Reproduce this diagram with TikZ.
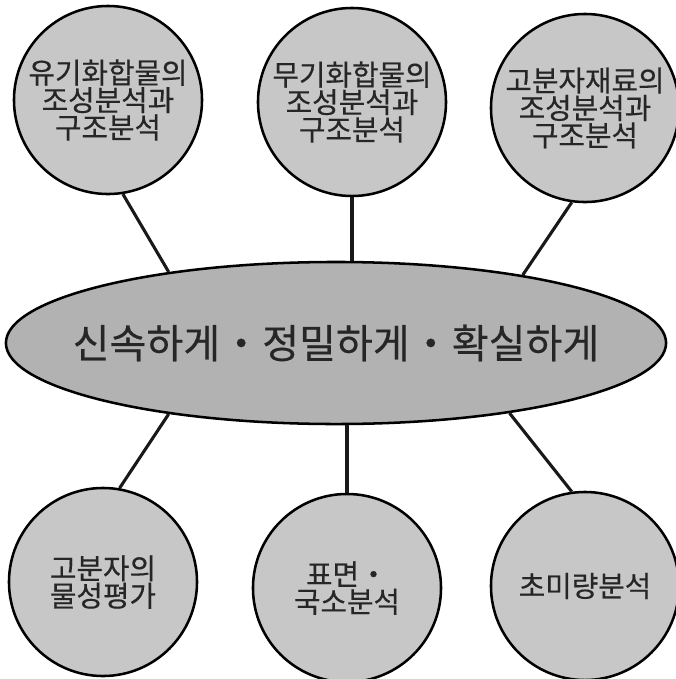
\documentclass[tikz,border=0pt]{standalone}
\usepackage{fontspec}
\newfontfamily\kofont[UprightFeatures={FakeBold=0.4}]{Noto Sans CJK KR}
\usepackage{tikz}
\usetikzlibrary{shapes.geometric}

\begin{document}
\begin{tikzpicture}[x=0.025cm, y=-0.025cm]
\tikzstyle{topic}=[circle, minimum size = 47mm, inner sep=0pt, line width=1.8pt, draw=black, fill=black!22, text=black!85, align=center, font=\kofont\fontsize{20.5}{19.5}\selectfont]
\tikzstyle{core}=[ellipse, minimum width = 165mm, minimum height = 40.5mm, inner sep=0pt, line width=1.8pt, draw=black, fill=black!30, text=black!85, font=\kofont\fontsize{28.5}{30}\selectfont]
\tikzstyle{connect}=[line width=2.2pt, black!90]
\newcommand{\sep}{\makebox[1.05em]{・}}
  \useasboundingbox (0,0) rectangle (676,679);
  % center
  \node[core] (core) at (336,343) {\makebox[0pt]{신속하게\sep 정밀하게\sep 확실하게}};
  % organic
  \node[topic] (organic) at (108,100) {유기화합물의\\조성분석과\\구조분석};
  % inorganic
  \node[topic] (inorganic) at (352,102) {무기화합물의\\조성분석과\\구조분석};
  % polymer
  \node[topic] (polymer) at (585,108) {고분자재료의\\조성분석과\\구조분석};
  % properties
  \node[topic] (props) at (103,582) {고분자의\\물성평가};
  % surface
  \node[topic] (surface) at (347,588) {표면・\\국소분석};
  % trace
  \node[topic] (trace) at (585,586) {초미량분석};
  \path (organic.-81) edge [connect] (core.157)
  		(inorganic.south) edge [connect] (inorganic.south |- core.north)
  		(polymer.-98) edge [connect] (core.20.5)
  		(core.203) edge [connect] (props.80)
  		(core.south -| surface.north) edge [connect] (surface.north)
  		(core.-22) edge [connect] (trace.98);
\end{tikzpicture}
\end{document}
